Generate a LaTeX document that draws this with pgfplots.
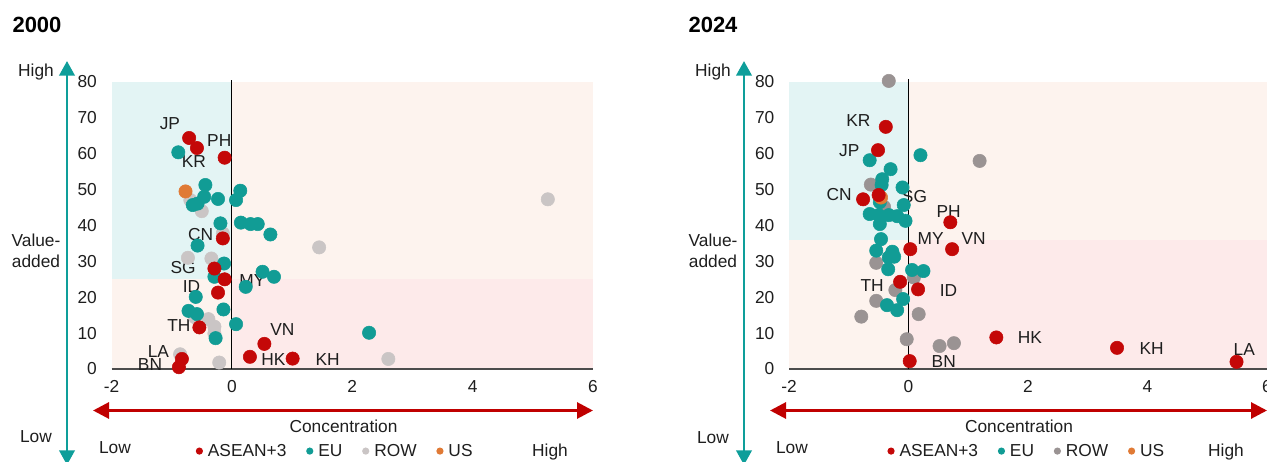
\documentclass[border=0pt]{standalone}
\usepackage{fontspec}
\setmainfont{Liberation Sans}
\usepackage{pgfplots}
\pgfplotsset{compat=1.18}
\usetikzlibrary{arrows.meta}

\definecolor{bgteal}{HTML}{E3F4F4}
\definecolor{bgpeach}{HTML}{FDF3EE}
\definecolor{bgpink}{HTML}{FDEAEA}
\definecolor{myred}{HTML}{C40808}
\definecolor{myteal}{HTML}{119C95}
\definecolor{lgray}{HTML}{CAC5C5}
\definecolor{dgray}{HTML}{9A9393}
\definecolor{myorange}{HTML}{E07A35}
\definecolor{arrteal}{HTML}{0E9E9A}
\definecolor{arrred}{HTML}{C00000}
\definecolor{txt}{HTML}{1E1E1E}

\newcommand\fs{\fontsize{13}{15.8}\selectfont}

\tikzset{lab/.style={font=\fs, text=txt}}

\pgfplotsset{
  myaxis/.style={
    scale only axis, clip=false,
    xmin=-2, xmax=6, ymin=0, ymax=80,
    axis line style={draw=none},
    major tick length=0pt,
    xtick={-2,0,2,4,6}, ytick={0,10,...,80},
    tick label style={font=\fs, text=txt},
    /pgf/number format/assume math mode=true,
    xticklabel style={yshift=-5pt},
    yticklabel style={xshift=-7.5pt},
    legend columns=4,
    legend image code/.code={\fill[##1, draw=none] (0pt,0pt) circle (2.7pt);},
    legend style={draw=none, fill=none, font=\fs, text=txt,
      anchor=center,
      nodes={inner sep=1.8pt},
      /tikz/every odd column/.append style={column sep=1.9pt},
      /tikz/every even column/.append style={column sep=13pt}},
  },
  pts/.style={only marks, mark=*, mark size=5pt, forget plot},
}

\begin{document}
\begin{tikzpicture}
\begin{scope}[x=0.75pt, y=-0.75pt, shift={(0pt,345.75pt)}]
  % titles
  \node[font=\fontsize{16.5}{19}\selectfont\bfseries] at (37,25) {2000};
  \node[font=\fontsize{16.5}{19}\selectfont\bfseries] at (713,25) {2024};
  % vertical teal arrows
  \draw[arrteal, line width=2.2pt, {Triangle[width=11.5pt,length=11pt]}-{Triangle[width=11.5pt,length=11pt]}] (67,465) -- (67,61);
  \draw[arrteal, line width=2.2pt, {Triangle[width=11.5pt,length=11pt]}-{Triangle[width=11.5pt,length=11pt]}] (744,465) -- (744,61);
  % horizontal red arrows
  \draw[arrred, line width=2.2pt, {Triangle[width=12pt,length=12pt]}-{Triangle[width=12pt,length=12pt]}] (93,410.5) -- (593,410.5);
  \draw[arrred, line width=2.2pt, {Triangle[width=12pt,length=12pt]}-{Triangle[width=12pt,length=12pt]}] (770,410.5) -- (1267,410.5);
  % axis words
  \node[lab] at (36,72) {High};
  \node[lab] at (36,437) {Low};
  \node[lab, align=center] at (36,251) {Value-\\added};
  \node[lab] at (713,72) {High};
  \node[lab] at (713,438) {Low};
  \node[lab, align=center] at (713,251) {Value-\\added};
  \node[lab] at (343.5,426.5) {Concentration};
  \node[lab] at (1019,426.5) {Concentration};
  \node[lab] at (115,448) {Low};
  \node[lab] at (550,452) {High};
  \node[lab] at (792,448) {Low};
  \node[lab] at (1226,452) {High};
\end{scope}

% ---------------- 2000 ----------------
\begin{axis}[myaxis, at={(83.625pt,69pt)}, anchor=south west,
  width=361.1pt, height=215.25pt,
  legend style={at={(0.465,-0.286)}}]
  \fill[bgteal] (axis cs:-2,25) rectangle (axis cs:0,80);
  \fill[bgpeach] (axis cs:0,25) rectangle (axis cs:6,80);
  \fill[bgpeach] (axis cs:-2,0) rectangle (axis cs:0,25);
  \fill[bgpink] (axis cs:0,0) rectangle (axis cs:6,25);
  \draw[black!70, line width=1.3pt] (axis cs:-2,0) -- (axis cs:6,0);
  \draw[black, line width=0.9pt] (axis cs:0,0) -- (axis cs:0,80.6);
  % ROW
  \addplot[pts, color=lgray] coordinates {
    (-0.69,47.1) (-0.50,44.0) (-0.15,37.8) (-0.73,31.0) (-0.34,30.8)
    (-0.61,14.4) (-0.39,13.9) (-0.29,11.8) (-0.29,9.9) (-0.21,1.8)
    (-0.86,4.1) (1.45,33.9) (2.60,2.8) (5.25,47.3)
  };
  % EU
  \addplot[pts, color=myteal] coordinates {
    (-0.89,60.4) (-0.44,51.3) (-0.46,48.0) (-0.57,46.1) (-0.65,45.7)
    (-0.23,47.4) (0.14,49.7) (0.07,47.1) (-0.19,40.6) (0.15,40.8)
    (0.31,40.4) (0.43,40.4) (0.64,37.5) (-0.57,34.4) (-0.13,29.4)
    (-0.29,25.7) (0.23,22.9) (0.51,27.1) (0.70,25.7) (-0.60,20.1)
    (-0.14,16.6) (-0.72,16.2) (-0.58,15.3) (-0.27,8.6) (0.07,12.5)
    (2.28,10.1)
  };
  % US
  \addplot[pts, color=myorange] coordinates {(-0.77,49.5)};
  % ASEAN+3
  \addplot[pts, color=myred] coordinates {
    (-0.71,64.4) (-0.58,61.6) (-0.12,58.9) (-0.15,36.4) (-0.29,28.0)
    (-0.12,25.0) (-0.23,21.3) (-0.54,11.6) (0.54,7.0) (0.30,3.4)
    (1.01,2.9) (-0.83,2.8) (-0.88,0.5)
  };
  \node[lab] at (axis cs:-1.03,68.4) {JP};
  \node[lab] at (axis cs:-0.21,63.8) {PH};
  \node[lab] at (axis cs:-0.63,57.7) {KR};
  \node[lab] at (axis cs:-0.52,37.6) {CN};
  \node[lab] at (axis cs:-0.81,28.2) {SG};
  \node[lab] at (axis cs:-0.67,22.9) {ID};
  \node[lab] at (axis cs:0.34,24.6) {MY};
  \node[lab] at (axis cs:-0.88,12.0) {TH};
  \node[lab] at (axis cs:-1.22,4.9) {LA};
  \node[lab] at (axis cs:-1.36,1.2) {BN};
  \node[lab] at (axis cs:0.84,11.1) {VN};
  \node[lab] at (axis cs:0.69,2.5) {HK};
  \node[lab] at (axis cs:1.59,2.7) {KH};
  \addlegendimage{fill=myred}
  \addlegendentry{ASEAN+3}
  \addlegendimage{fill=myteal}
  \addlegendentry{EU}
  \addlegendimage{fill=lgray}
  \addlegendentry{ROW}
  \addlegendimage{fill=myorange}
  \addlegendentry{US}
\end{axis}

% ---------------- 2024 ----------------
\begin{axis}[myaxis, at={(591.75pt,69pt)}, anchor=south west,
  width=358.5pt, height=215.25pt,
  legend style={at={(0.498,-0.286)}}]
  \fill[bgteal] (axis cs:-2,36) rectangle (axis cs:0,80);
  \fill[bgpeach] (axis cs:0,36) rectangle (axis cs:6,80);
  \fill[bgpeach] (axis cs:-2,0) rectangle (axis cs:0,36);
  \fill[bgpink] (axis cs:0,0) rectangle (axis cs:6,36);
  \draw[black!70, line width=1.3pt] (axis cs:-2,0) -- (axis cs:6,0);
  \draw[black, line width=0.9pt] (axis cs:0,0) -- (axis cs:0,80.8);
  % ROW
  \addplot[pts, color=dgray] coordinates {
    (-0.33,80.3) (1.19,58.0) (-0.63,51.4) (-0.41,45.2) (-0.54,29.6)
    (0.09,25.5) (-0.22,22.0) (-0.54,19.0) (0.17,15.3) (-0.79,14.6)
    (-0.03,8.3) (0.52,6.4) (0.76,7.2)
  };
  % EU
  \addplot[pts, color=myteal] coordinates {
    (-0.65,58.2) (0.20,59.6) (-0.30,55.7) (-0.44,52.9) (-0.45,51.3)
    (-0.10,50.6) (-0.48,46.5) (-0.08,45.7) (-0.65,43.2) (-0.50,42.9)
    (-0.33,42.9) (-0.19,42.6) (-0.05,41.3) (-0.48,40.4) (-0.46,36.2)
    (-0.54,33.0) (-0.27,32.7) (-0.24,31.3) (-0.33,31.1) (-0.34,27.8)
    (0.06,27.6) (0.25,27.3) (-0.09,19.5) (-0.36,17.8) (-0.19,16.4)
  };
  % US
  \addplot[pts, color=myorange] coordinates {(-0.46,47.8)};
  % ASEAN+3
  \addplot[pts, color=myred] coordinates {
    (-0.38,67.5) (-0.51,61.0) (-0.76,47.3) (-0.50,48.5) (0.70,40.9)
    (0.03,33.4) (0.73,33.4) (-0.14,24.3) (0.16,22.2) (0.02,2.2)
    (1.47,8.8) (3.49,5.9) (5.49,2.0)
  };
  \node[lab] at (axis cs:-0.84,69.2) {KR};
  \node[lab] at (axis cs:-0.99,60.8) {JP};
  \node[lab] at (axis cs:-1.16,48.7) {CN};
  \node[lab] at (axis cs:0.10,48.2) {SG};
  \node[lab] at (axis cs:0.67,43.8) {PH};
  \node[lab] at (axis cs:0.37,36.4) {MY};
  \node[lab] at (axis cs:1.09,36.4) {VN};
  \node[lab] at (axis cs:-0.61,23.4) {TH};
  \node[lab] at (axis cs:0.67,22.0) {ID};
  \node[lab] at (axis cs:0.59,2.0) {BN};
  \node[lab] at (axis cs:2.03,8.8) {HK};
  \node[lab] at (axis cs:4.07,5.6) {KH};
  \node[lab] at (axis cs:5.62,5.5) {LA};
  \addlegendimage{fill=myred}
  \addlegendentry{ASEAN+3}
  \addlegendimage{fill=myteal}
  \addlegendentry{EU}
  \addlegendimage{fill=dgray}
  \addlegendentry{ROW}
  \addlegendimage{fill=myorange}
  \addlegendentry{US}
\end{axis}
\pgfresetboundingbox
\path[use as bounding box] (0pt,0pt) rectangle (950.25pt,345.75pt);
\end{tikzpicture}
\end{document}
